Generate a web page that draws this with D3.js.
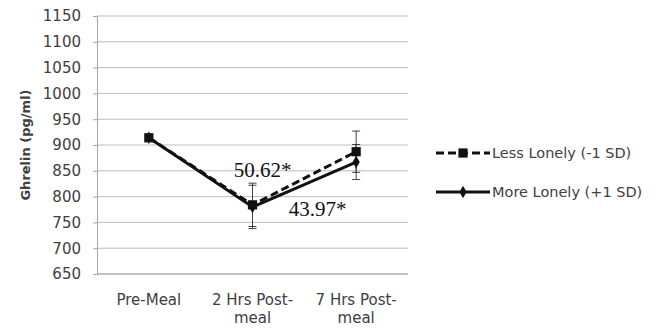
<!DOCTYPE html>
<html>
<head>
<meta charset="utf-8">
<script src="https://cdn.jsdelivr.net/npm/d3@7"></script>
<style>
  body { margin: 0; background: #fff; }
  svg { display: block; }
  .tick text { font-family: "DejaVu Sans", sans-serif; fill: #404040; }
</style>
</head>
<body>
<div id="chart"></div>
<script>
// categories and series values
const categories = ["Pre-Meal", "2 Hrs Post-meal", "7 Hrs Post-meal"];
const categoryLines = [["Pre-Meal"], ["2 Hrs Post-", "meal"], ["7 Hrs Post-", "meal"]];
const lessLonely = [914, 784, 887];
const lessLonelyErr = [0, 42, 40];
const moreLonely = [914, 780, 867];
const moreLonelyErr = [0, 42, 34];
const yTicks = [650, 700, 750, 800, 850, 900, 950, 1000, 1050, 1100, 1150];
const seriesNames = ["Less Lonely (-1 SD)", "More Lonely (+1 SD)"];
const annotations = [
    {text: "50.62*", cat: 1, value: 838, dx: 10},
    {text: "43.97*", cat: 1, value: 762, dx: 65}
];

const W = 660, H = 332;
const margin = {top: 16, right: 252, bottom: 58, left: 97};
const width = W - margin.left - margin.right;
const height = H - margin.top - margin.bottom;

const svg = d3.select("#chart").append("svg")
    .attr("width", W)
    .attr("height", H);

const g = svg.append("g")
    .attr("transform", "translate(" + margin.left + "," + margin.top + ")");

// scales
const x = d3.scaleBand()
    .domain(categories)
    .range([0, width]);

const y = d3.scaleLinear()
    .domain([650, 1150])
    .range([height, 0]);

const cx = i => x(categories[i]) + x.bandwidth() / 2;

// gridlines
g.selectAll(".grid")
    .data(yTicks)
    .enter().append("line")
    .attr("class", "grid")
    .attr("x1", 0)
    .attr("x2", width)
    .attr("y1", d => y(d))
    .attr("y2", d => y(d))
    .attr("stroke", "#bdbdbd")
    .attr("stroke-width", 1);

// y axis
const yAxis = g.append("g")
    .call(d3.axisLeft(y).tickValues(yTicks).tickFormat(d3.format("d")).tickSize(4).tickPadding(12));
yAxis.select(".domain").attr("stroke", "#a6a6a6");
yAxis.selectAll(".tick line").attr("stroke", "#a6a6a6");
yAxis.selectAll(".tick text").style("font-size", "15px");

// bottom axis line
g.append("line")
    .attr("x1", 0).attr("x2", width)
    .attr("y1", height).attr("y2", height)
    .attr("stroke", "#a6a6a6");

// category labels
const catLabels = g.selectAll(".cat-label")
    .data(categoryLines)
    .enter().append("text")
    .attr("class", "cat-label")
    .attr("text-anchor", "middle")
    .attr("font-family", "DejaVu Sans, sans-serif")
    .attr("font-size", "15px")
    .attr("fill", "#404040")
    .attr("transform", (d, i) => "translate(" + cx(i) + "," + (height + 31) + ")");

catLabels.selectAll("tspan")
    .data(d => d)
    .enter().append("tspan")
    .attr("x", 0)
    .attr("dy", (d, i) => i === 0 ? 0 : 18)
    .text(d => d);

// y title
svg.append("text")
    .attr("transform", "translate(30,145) rotate(-90)")
    .attr("text-anchor", "middle")
    .attr("font-family", "DejaVu Sans, sans-serif")
    .attr("font-weight", "bold")
    .attr("font-size", "13px")
    .attr("fill", "#404040")
    .text("Ghrelin (pg/ml)");

const series = [
    {name: seriesNames[0], values: lessLonely, err: lessLonelyErr, dash: "8,4", marker: "square"},
    {name: seriesNames[1], values: moreLonely, err: moreLonelyErr, dash: null, marker: "diamond"}
];

const line = d3.line()
    .x((d, i) => cx(i))
    .y(d => y(d));

// error bars
series.forEach(s => {
    s.values.forEach((v, i) => {
        if (!s.err[i]) return;
        const eg = g.append("g").attr("stroke", "#404040").attr("stroke-width", 1);
        eg.append("line")
            .attr("x1", cx(i)).attr("x2", cx(i))
            .attr("y1", y(v - s.err[i])).attr("y2", y(v + s.err[i]));
        [v - s.err[i], v + s.err[i]].forEach(e => {
            eg.append("line")
                .attr("x1", cx(i) - 4).attr("x2", cx(i) + 4)
                .attr("y1", y(e)).attr("y2", y(e));
        });
    });
});

// lines
series.slice().reverse().forEach(s => {
    g.append("path")
        .datum(s.values)
        .attr("fill", "none")
        .attr("stroke", "#111")
        .attr("stroke-width", 3)
        .attr("stroke-dasharray", s.dash)
        .attr("d", line);
});

// markers
const squareSym = d3.symbol().type(d3.symbolSquare).size(85);
const diamondSym = d3.symbol().type(d3.symbolDiamond).size(45);

series.slice().reverse().forEach(s => {
    g.selectAll(".m-" + s.marker)
        .data(s.values)
        .enter().append("path")
        .attr("class", "m-" + s.marker)
        .attr("transform", (d, i) => "translate(" + cx(i) + "," + y(d) + ")")
        .attr("d", s.marker === "square" ? squareSym : diamondSym)
        .attr("fill", "#111");
});

// annotations
g.selectAll(".anno")
    .data(annotations)
    .enter().append("text")
    .attr("class", "anno")
    .attr("x", d => cx(d.cat) + d.dx)
    .attr("y", d => y(d.value))
    .attr("text-anchor", "middle")
    .attr("font-family", "Liberation Serif, Times New Roman, serif")
    .attr("font-size", "21px")
    .attr("fill", "#111")
    .text(d => d.text);

// legend
const legend = svg.append("g")
    .attr("transform", "translate(436,153)");

const items = legend.selectAll(".legend-item")
    .data(series)
    .enter().append("g")
    .attr("class", "legend-item")
    .attr("transform", (d, i) => "translate(0," + i * 39 + ")");

items.append("line")
    .attr("x1", 0).attr("x2", 54)
    .attr("stroke", "#111")
    .attr("stroke-width", 3)
    .attr("stroke-dasharray", d => d.dash);

items.append("path")
    .attr("transform", "translate(27,0)")
    .attr("d", d => d.marker === "square" ? squareSym() : diamondSym())
    .attr("fill", "#111");

items.append("text")
    .attr("x", 56)
    .attr("y", 5)
    .attr("font-family", "DejaVu Sans, sans-serif")
    .attr("font-size", "14.5px")
    .attr("fill", "#404040")
    .text(d => d.name);
</script>
</body>
</html>
